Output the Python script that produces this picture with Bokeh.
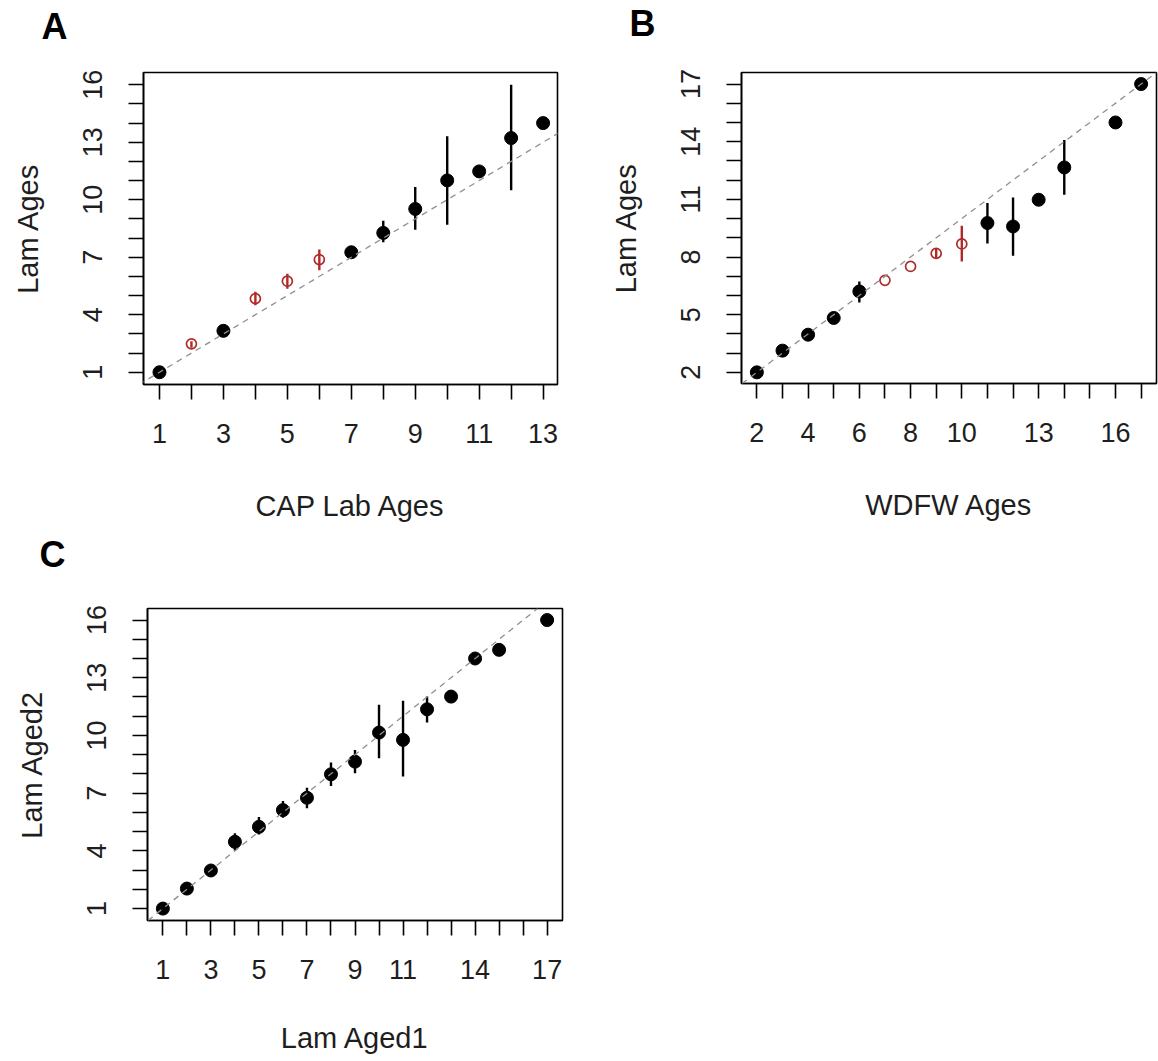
from bokeh.plotting import figure
from bokeh.models import FixedTicker, Slope, Range1d, ColumnDataSource, Title
from bokeh.layouts import row, column
from bokeh.embed import file_html
from bokeh.resources import INLINE

# ---------------- data ----------------
# Panel A: CAP Lab Ages vs Lam Ages
a_x = [1, 2, 3, 4, 5, 6, 7, 8, 9, 10, 11, 12, 13]
a_y = [1.0, 2.48, 3.16, 4.84, 5.75, 6.88, 7.26, 8.27, 9.52, 11.01, 11.48, 13.22, 14.0]
a_lo = [1.0, 2.28, 3.16, 4.50, 5.36, 6.32, 7.26, 7.78, 8.44, 8.70, 11.48, 10.49, 14.0]
a_hi = [1.0, 2.62, 3.16, 5.20, 6.14, 7.40, 7.26, 8.91, 10.66, 13.31, 11.48, 16.0, 14.0]
a_red = [0, 1, 0, 1, 1, 1, 0, 0, 0, 0, 0, 0, 0]
a_xticks = list(range(1, 14))
a_xlabels = [1, 3, 5, 7, 9, 11, 13]
a_yticks = list(range(1, 17))
a_ylabels = [1, 4, 7, 10, 13, 16]

# Panel B: WDFW Ages vs Lam Ages
b_x = [2, 3, 4, 5, 6, 7, 8, 9, 10, 11, 12, 13, 14, 16, 17]
b_y = [2.0, 3.13, 3.96, 4.83, 6.21, 6.79, 7.51, 8.19, 8.68, 9.77, 9.59, 10.98, 12.66, 15.0, 17.0]
b_lo = [2.0, 3.13, 3.96, 4.83, 5.64, 6.79, 7.51, 7.95, 7.77, 8.71, 8.07, 10.98, 11.24, 15.0, 17.0]
b_hi = [2.0, 3.13, 3.96, 4.83, 6.73, 6.79, 7.51, 8.45, 9.63, 10.81, 11.10, 10.98, 14.09, 15.0, 17.0]
b_red = [0, 0, 0, 0, 0, 1, 1, 1, 1, 0, 0, 0, 0, 0, 0]
b_xticks = list(range(2, 18))
b_xlabels = [2, 4, 6, 8, 10, 13, 16]
b_yticks = list(range(2, 18))
b_ylabels = [2, 5, 8, 11, 14, 17]

# Panel C: Lam Aged1 vs Lam Aged2
c_x = [1, 2, 3, 4, 5, 6, 7, 8, 9, 10, 11, 12, 13, 14, 15, 17]
c_y = [1.0, 2.04, 2.98, 4.47, 5.25, 6.12, 6.76, 7.98, 8.64, 10.15, 9.77, 11.36, 12.02, 14.0, 14.45, 16.0]
c_lo = [1.0, 2.04, 2.98, 4.02, 4.85, 5.72, 6.21, 7.37, 8.03, 8.81, 7.86, 10.67, 12.02, 14.0, 14.45, 16.0]
c_hi = [1.0, 2.04, 2.98, 4.91, 5.76, 6.59, 7.28, 8.59, 9.25, 11.59, 11.80, 12.02, 12.02, 14.0, 14.45, 16.0]
c_red = [0] * 16
c_xticks = list(range(1, 18))
c_xlabels = [1, 3, 5, 7, 9, 11, 14, 17]
c_yticks = list(range(1, 17))
c_ylabels = [1, 4, 7, 10, 13, 16]

FONT = "Liberation Sans"
RED = "#b02a2a"
TXT = "#1e1e1e"


def panel(letter, xs, ys, lo, hi, red, xticks, xlabels, yticks, ylabels,
          xtitle, ytitle, xr, yr, fw, fh, bl, br, bt, bb, xstand, lx, spacer):
    p = figure(frame_width=fw, frame_height=fh,
               min_border_left=bl, min_border_right=br,
               min_border_top=bt, min_border_bottom=bb,
               x_range=Range1d(*xr), y_range=Range1d(*yr),
               output_backend="svg", toolbar_location=None, tools="")
    p.grid.visible = False
    p.outline_line_color = "black"
    p.outline_line_width = 1.6
    p.outline_line_alpha = 1.0
    p.background_fill_color = "white"
    p.border_fill_color = "white"

    for ax, ticks, labs in ((p.xaxis[0], xticks, xlabels), (p.yaxis[0], yticks, ylabels)):
        ax.ticker = FixedTicker(ticks=ticks, minor_ticks=[])
        ax.major_label_overrides = {t: (str(t) if t in labs else "") for t in ticks}
        ax.major_tick_out = 15
        ax.major_tick_in = 0
        ax.minor_tick_out = 0
        ax.minor_tick_in = 0
        ax.major_tick_line_width = 1.6
        ax.major_tick_line_color = "black"
        ax.axis_line_width = 1.6
        ax.axis_line_color = "black"
        ax.major_label_text_font = FONT
        ax.major_label_text_font_size = "27px"
        ax.major_label_text_color = TXT
        ax.axis_label_text_font = FONT
        ax.axis_label_text_font_size = "29px"
        ax.axis_label_text_font_style = "normal"
        ax.axis_label_text_color = TXT
    p.xaxis[0].major_label_standoff = 24
    p.xaxis[0].axis_label_standoff = xstand
    p.yaxis[0].major_label_standoff = 26
    p.yaxis[0].axis_label_standoff = 37
    p.xaxis[0].axis_label = xtitle
    p.yaxis[0].axis_label = ytitle
    p.yaxis[0].major_label_orientation = "vertical"

    # spacer (nearest the frame) then the panel letter above it
    p.add_layout(Title(text=" ", text_font=FONT, text_font_size="10px",
                       standoff=spacer), "above")
    p.add_layout(Title(text=letter, text_font=FONT, text_font_size="36px",
                       text_font_style="bold", text_color="black",
                       align="left", offset=lx, vertical_align="top",
                       standoff=0), "above")

    p.add_layout(Slope(gradient=1, y_intercept=0, line_color="#8f8f8f",
                       line_dash="6 5", line_width=1.3))

    cols = [RED if r else "black" for r in red]
    p.segment(x0="x", y0="lo", x1="x", y1="hi", line_color="c", line_width=2.4,
              source=ColumnDataSource(dict(x=xs, lo=lo, hi=hi, c=cols)))
    fx = [x for x, r in zip(xs, red) if not r]
    fy = [y for y, r in zip(ys, red) if not r]
    ox = [x for x, r in zip(xs, red) if r]
    oy = [y for y, r in zip(ys, red) if r]
    p.scatter(fx, fy, size=13, fill_color="black", line_color="black")
    if ox:
        p.scatter(ox, oy, size=10, fill_color=None, line_color=RED, line_width=1.7)
    return p


pa = panel("A", a_x, a_y, a_lo, a_hi, a_red, a_xticks, a_xlabels, a_yticks, a_ylabels,
           "CAP Lab Ages", "Lam Ages", (0.5, 13.45), (0.36, 16.64),
           414, 312, 143, 22, 69, 149, 44, -102, 11)
pb = panel("B", b_x, b_y, b_lo, b_hi, b_red, b_xticks, b_xlabels, b_yticks, b_ylabels,
           "WDFW Ages", "Lam Ages", (1.4, 17.6), (1.42, 17.6),
           415, 311, 162, 2, 72, 147, 44, -112, 14)
pc = panel("C", c_x, c_y, c_lo, c_hi, c_red, c_xticks, c_xlabels, c_yticks, c_ylabels,
           "Lam Aged1", "Lam Aged2", (0.36, 17.64), (0.38, 16.6),
           415, 312, 147, 20, 78, 141, 40, -108, 19)

layout = column(row(pa, pb), pc)
open("out.html", "w").write(file_html(layout, INLINE))
